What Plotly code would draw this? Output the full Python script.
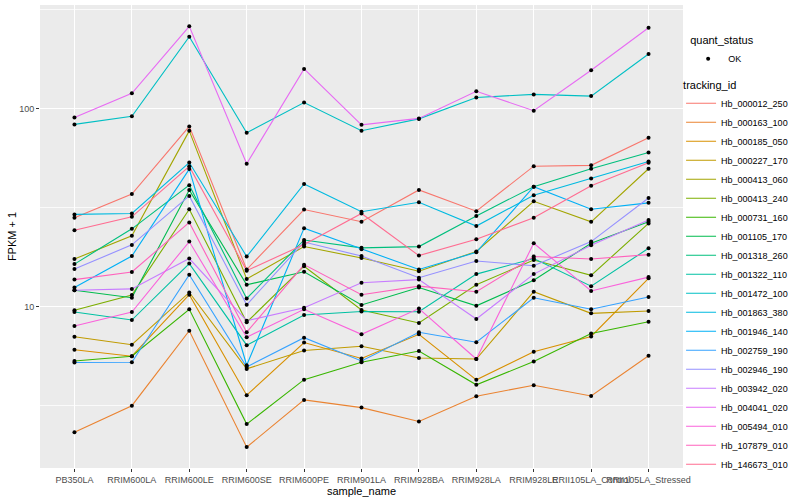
import plotly.graph_objects as go

samples = ["PB350LA", "RRIM600LA", "RRIM600LE", "RRIM600SE", "RRIM600PE", "RRIM901LA",
           "RRIM928BA", "RRIM928LA", "RRIM928LE", "RRII105LA_Control", "RRII105LA_Stressed"]

tracking_ids = ["Hb_000012_250", "Hb_000163_100", "Hb_000185_050", "Hb_000227_170",
                "Hb_000413_060", "Hb_000413_240", "Hb_000731_160", "Hb_001105_170",
                "Hb_001318_260", "Hb_001322_110", "Hb_001472_100", "Hb_001863_380",
                "Hb_001946_140", "Hb_002759_190", "Hb_002946_190", "Hb_003942_020",
                "Hb_004041_020", "Hb_005494_010", "Hb_107879_010", "Hb_146673_010"]

colors = ["#F8766D", "#EA8331", "#D89000", "#C09B00", "#A3A500", "#7CAE00", "#39B600",
          "#00BB4E", "#00BF7D", "#00C1A3", "#00BFC4", "#00BAE0", "#00B0F6", "#35A2FF",
          "#9590FF", "#C77CFF", "#E76BF3", "#FA62DB", "#FF62BC", "#FF6C91"]

hb_000012_250 = [28.1, 37.0, 81.1, 15.4, 30.9, 26.8, 38.8, 30.3, 51.1, 51.6, 71.1]
hb_000163_100 = [2.33, 3.17, 7.57, 1.96, 3.39, 3.10, 2.64, 3.54, 4.02, 3.55, 5.66]
hb_000185_050 = [6.07, 5.63, 11.5, 3.58, 6.6, 5.48, 7.26, 4.28, 5.93, 7.08, 13.9]
hb_000227_170 = [7.06, 6.43, 11.8, 4.86, 6.02, 6.32, 5.51, 5.45, 11.9, 9.26, 9.51]
hb_000413_060 = [17.4, 22.8, 77.0, 13.8, 20.1, 17.6, 15.1, 19.0, 34.0, 26.8, 49.6]
hb_000413_240 = [9.6, 11.45, 31.0, 8.35, 16.0, 9.62, 8.28, 12.9, 17.2, 14.4, 26.3]
hb_000731_160 = [5.33, 5.63, 9.7, 2.56, 4.29, 5.25, 5.98, 4.04, 5.29, 7.33, 8.4]
hb_001105_170 = [12.1, 11.1, 38.8, 12.9, 15.0, 10.2, 12.5, 10.1, 13.6, 20.9, 26.8]
hb_001318_260 = [16.4, 24.7, 41.0, 11.0, 21.7, 19.8, 20.1, 28.7, 40.3, 49.6, 59.9]
hb_001322_110 = [9.4, 8.57, 16.5, 6.40, 9.08, 9.46, 9.44, 14.6, 17.5, 12.7, 19.7]
hb_001472_100 = [83.0, 91.2, 229.6, 75.3, 107.0, 77.1, 88.5, 113.5, 117.6, 115.3, 188.0]
hb_001863_380 = [29.2, 29.5, 53.3, 17.9, 41.6, 30.1, 33.6, 25.5, 36.5, 44.3, 54.0]
hb_001946_140 = [12.5, 18.0, 49.4, 5.07, 24.9, 19.5, 15.4, 18.8, 40.3, 31.0, 33.4]
hb_002759_190 = [5.23, 5.25, 14.5, 4.97, 6.98, 5.33, 7.43, 6.62, 11.1, 9.71, 11.2]
hb_002946_190 = [15.5, 20.5, 36.2, 10.23, 21.2, 18.0, 14.0, 17.0, 16.1, 21.3, 35.3]
hb_003942_020 = [12.1, 12.3, 17.5, 8.5, 9.88, 13.2, 13.7, 8.67, 14.6, 20.4, 27.4]
hb_004041_020 = [90.0, 119.0, 259.0, 52.6, 158.0, 82.6, 89.0, 122.0, 97.3, 155.6, 255.0]
hb_005494_010 = [8.0, 9.4, 21.3, 7.02, 9.7, 7.26, 9.79, 5.45, 20.9, 12.0, 14.1]
hb_107879_010 = [13.7, 14.96, 26.6, 7.44, 16.3, 11.5, 12.7, 11.9, 17.9, 17.4, 18.3]
hb_146673_010 = [24.3, 28.4, 51.0, 15.2, 20.6, 29.5, 18.1, 21.9, 28.1, 40.7, 53.2]

series = [hb_000012_250, hb_000163_100, hb_000185_050, hb_000227_170, hb_000413_060,
          hb_000413_240, hb_000731_160, hb_001105_170, hb_001318_260, hb_001322_110,
          hb_001472_100, hb_001863_380, hb_001946_140, hb_002759_190, hb_002946_190,
          hb_003942_020, hb_004041_020, hb_005494_010, hb_107879_010, hb_146673_010]

quant_status = ["OK"]

FONT = "Liberation Sans, Arial, sans-serif"

fig = go.Figure()
for name, vals, col in zip(tracking_ids, series, colors):
    fig.add_trace(go.Scatter(
        x=samples, y=vals, mode="lines", name=name,
        line=dict(color=col, width=1.1), legend="legend2",
        hoverinfo="skip"))

all_x = [s for vals in series for s in samples]
all_y = [v for vals in series for v in vals]
fig.add_trace(go.Scatter(
    x=all_x, y=all_y, mode="markers", name=quant_status[0],
    marker=dict(color="black", size=4), legend="legend"))

fig.update_layout(
    width=800, height=500,
    margin=dict(l=40, r=117, t=5, b=32, autoexpand=False),
    paper_bgcolor="white", plot_bgcolor="#EBEBEB",
    font=dict(family=FONT, color="#000000"),
    showlegend=True,
    legend=dict(
        title=dict(text="quant_status", font=dict(size=11, color="#000000")),
        x=1.008, xanchor="left", y=0.946, yanchor="top",
        font=dict(size=9, color="#000000"), bgcolor="rgba(0,0,0,0)",
        itemwidth=30),
    legend2=dict(
        title=dict(text="tracking_id", font=dict(size=11, color="#000000")),
        x=0.997, xanchor="left", y=0.850, yanchor="top",
        font=dict(size=9, color="#000000"), bgcolor="rgba(0,0,0,0)",
        itemwidth=30, tracegroupgap=0),
    xaxis=dict(
        type="category", categoryorder="array", categoryarray=samples,
        range=[-0.6, 10.6], showgrid=True, gridcolor="white", gridwidth=1.1,
        zeroline=False, showline=False, ticks="outside", ticklen=3,
        tickcolor="#333333", tickwidth=1, tickangle=0,
        tickfont=dict(size=9, color="#4D4D4D"),
        title=dict(text="sample_name", font=dict(size=11, color="#000000"), standoff=1)),
    yaxis=dict(
        type="log", range=[0.187, 2.521], tickvals=[10, 100], ticktext=["10", "100"],
        showgrid=True, gridcolor="white", gridwidth=1.1, zeroline=False, showline=False,
        ticks="outside", ticklen=3, tickcolor="#333333", tickwidth=1,
        tickfont=dict(size=9, color="#4D4D4D"),
        minor=dict(tickvals=[3.1623, 31.623, 316.23], showgrid=True,
                   gridcolor="#FAFAFA", gridwidth=0.6, ticks=""),
        title=dict(text="FPKM + 1", font=dict(size=11, color="#000000"), standoff=0)),
)

fig.write_html("out.html",
               config={"displayModeBar": False},
               post_script="document.body.style.margin='0px';document.body.style.overflow='hidden';")
